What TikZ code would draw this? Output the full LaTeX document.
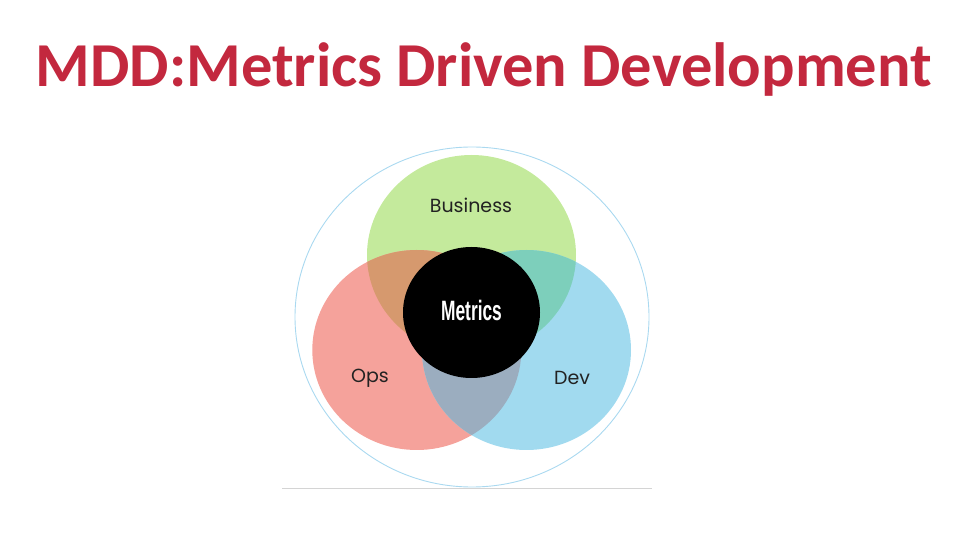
\documentclass[tikz,border=0pt]{standalone}
\usepackage{fontspec}
\usepackage{graphicx}
\setmainfont{Carlito}
\newfontfamily\setfont{Poppins}
\newfontfamily\metricsfont{Liberation Sans}
\definecolor{titleRed}{HTML}{C3283E}
\definecolor{business}{HTML}{C4EA9C}
\definecolor{ops}{HTML}{F5A29B}
\definecolor{dev}{HTML}{A1DAEF}
\definecolor{busOps}{HTML}{D6996E}
\definecolor{busDev}{HTML}{7DCFBB}
\definecolor{opsDev}{HTML}{9BADBF}
\definecolor{ring}{HTML}{AAD9F0}
\definecolor{rule}{HTML}{D4D4D4}
\definecolor{setText}{HTML}{222222}
\tikzset{titleText/.style={text=titleRed,font=\bfseries\fontsize{62.5}{62.5}\selectfont,inner sep=0pt}}
\tikzset{setLabel/.style={text=setText,font=\setfont\fontsize{19}{19}\selectfont,inner sep=0pt}}
\tikzset{metricsLabel/.style={text=white,font=\metricsfont\bfseries\fontsize{28}{28}\selectfont,inner sep=0pt}}
\tikzset{outerRing/.style={draw=ring,line width=0.9pt}}
\begin{document}
\begin{tikzpicture}[x=1pt,y=-1pt]
\useasboundingbox (0,0) rectangle (954,545);
\node[titleText,anchor=base] (title) at (484,87) {MDD:Metrics Driven Development};

\coordinate (busC) at (471.5,255);
\coordinate (opsC) at (416.8,350);
\coordinate (devC) at (526.5,350);
\def\setEllipse{ellipse [x radius=104.5, y radius=100]}

% outer ring
\draw[outerRing] (472,317) ellipse [x radius=177, y radius=170];

% the three sets
\fill[business] (busC) \setEllipse;
\fill[ops] (opsC) \setEllipse;
\fill[dev] (devC) \setEllipse;
\begin{scope}
  \clip (busC) \setEllipse;
  \fill[busOps] (opsC) \setEllipse;
  \fill[busDev] (devC) \setEllipse;
\end{scope}
\begin{scope}
  \clip (opsC) \setEllipse;
  \fill[opsDev] (devC) \setEllipse;
\end{scope}

% core
\fill[black] (471.5,312.5) ellipse [x radius=68.5, y radius=65.5];
\node[metricsLabel] (metrics) at (471.5,310) {\scalebox{0.62}[1]{Metrics}};

\node[setLabel] (business) at (471,205) {Business};
\node[setLabel] (opsLabel) at (370,378) {Ops};
\node[setLabel] (devLabel) at (572,378) {Dev};

\draw[rule,line width=1pt] (282,488) -- (652,488);
\end{tikzpicture}
\end{document}
